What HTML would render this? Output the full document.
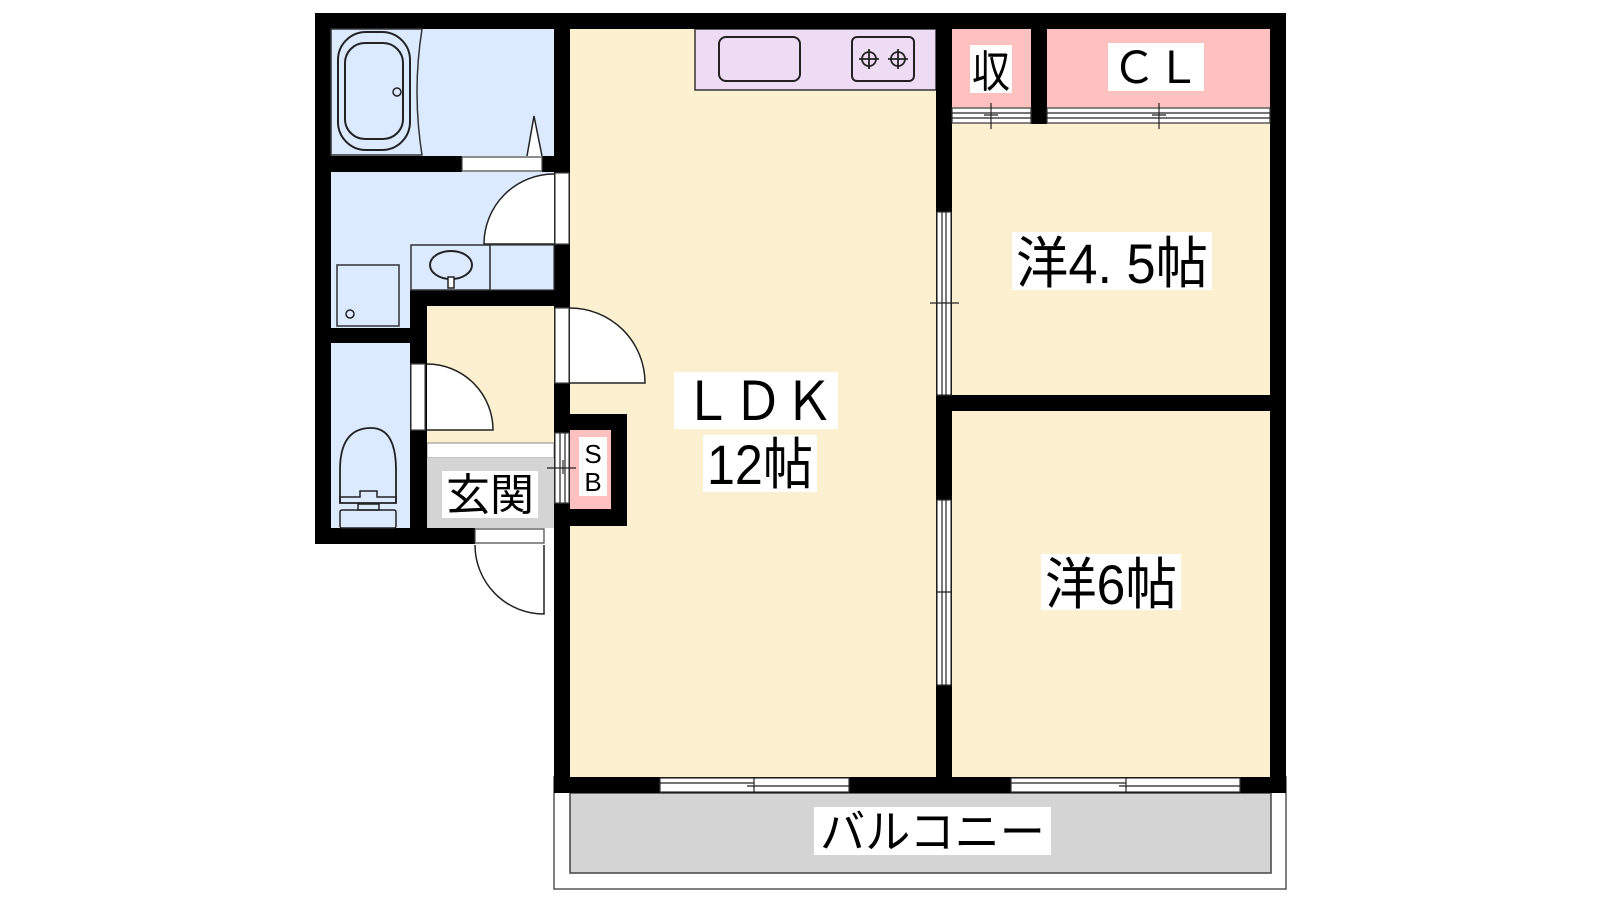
<!DOCTYPE html>
<html><head><meta charset="utf-8"><style>
html,body{margin:0;padding:0;background:#fff;width:1600px;height:900px;overflow:hidden}
svg{display:block}
text{font-family:"Liberation Sans","Noto Sans CJK JP",sans-serif;fill:#000}
</style></head><body>
<svg width="1600" height="900" viewBox="0 0 1600 900" xmlns="http://www.w3.org/2000/svg">
<!-- balcony -->
<rect x="554" y="777" width="732" height="112" fill="#fff" stroke="#555" stroke-width="1.5"/>
<rect x="570" y="793" width="701" height="80" fill="#d4d4d4" stroke="#444" stroke-width="1.5"/>
<rect x="814" y="807" width="237" height="48" fill="#fff"/>
<text x="820" y="848" font-size="46" textLength="225" lengthAdjust="spacingAndGlyphs">バルコニー</text>

<!-- floors -->
<rect x="331" y="29" width="223" height="127" fill="#dbeafe"/>
<rect x="331" y="172" width="223" height="118" fill="#dbeafe"/>
<rect x="331" y="290" width="79" height="38" fill="#dbeafe"/>
<rect x="331" y="343" width="79" height="185" fill="#dbeafe"/>
<rect x="427" y="306" width="127" height="137" fill="#fdf0d0"/>
<rect x="427" y="443" width="127" height="15" fill="#fff" stroke="#888" stroke-width="1"/>
<rect x="427" y="458" width="127" height="70" fill="#d4d4d4"/>
<rect x="570" y="29" width="366" height="748" fill="#fdf0d0"/>
<rect x="952" y="29" width="318" height="748" fill="#fdf0d0"/>
<rect x="952" y="29" width="79" height="78" fill="#ffc0c0"/>
<rect x="1047" y="29" width="223" height="78" fill="#ffc0c0"/>

<!-- kitchen -->
<rect x="695" y="29" width="241" height="61" fill="#eddcf4" stroke="#333" stroke-width="1.5"/>
<rect x="719" y="37" width="81" height="44" rx="7" fill="none" stroke="#222" stroke-width="2"/>
<rect x="852" y="37" width="62" height="44" rx="5" fill="none" stroke="#222" stroke-width="2"/>
<g stroke="#222" stroke-width="1.8" fill="none">
<circle cx="869" cy="59" r="7"/><circle cx="898" cy="59" r="7"/>
<path d="M869 49v20M859 59h20M898 49v20M888 59h20"/>
</g>

<!-- walls -->
<g fill="#000">
<rect x="315" y="13" width="971" height="16"/>
<rect x="315" y="13" width="16" height="531"/>
<rect x="1270" y="13" width="16" height="780"/>
<rect x="554" y="13" width="16" height="780"/>
<rect x="936" y="13" width="16" height="780"/>
<rect x="1031" y="29" width="16" height="95"/>
<rect x="952" y="395" width="318" height="16"/>
<rect x="331" y="156" width="131" height="16"/>
<rect x="542" y="156" width="12" height="16"/>
<rect x="410" y="290" width="160" height="16"/>
<rect x="331" y="328" width="79" height="15"/>
<rect x="410" y="290" width="17" height="238"/>
<rect x="315" y="528" width="160" height="16"/>
<rect x="554" y="777" width="732" height="16"/>
<rect x="554" y="414" width="73" height="112"/>
</g>
<rect x="570" y="430" width="41" height="79" fill="#ffc0c0"/>
<rect x="579" y="437" width="28" height="59" fill="#fff"/>
<text x="593" y="463" font-size="26" text-anchor="middle">S</text>
<text x="593" y="491" font-size="26" text-anchor="middle">B</text>

<!-- bath -->
<path d="M331 29 H422 Q412 92 422 155 H331 Z" fill="#dbeafe" stroke="#333" stroke-width="1.5"/>
<rect x="338" y="32" width="72" height="118" rx="28" fill="none" stroke="#222" stroke-width="2"/>
<rect x="345" y="43" width="58" height="96" rx="20" fill="none" stroke="#222" stroke-width="2"/>
<circle cx="397" cy="92" r="4" fill="none" stroke="#222" stroke-width="1.5"/>
<rect x="462" y="157" width="80" height="14" fill="#fff" stroke="#444" stroke-width="1.2"/>
<path d="M527 156 L534 116 L542 156" fill="#fff" stroke="#222" stroke-width="1.5"/>

<!-- washroom door -->
<rect x="555" y="173" width="14" height="71" fill="#fff" stroke="#444" stroke-width="1.2"/>
<path d="M554 174 A70 70 0 0 0 484 244 L554 244" fill="#fff" stroke="#222" stroke-width="1.5"/>
<rect x="411" y="245" width="79" height="45" fill="#dbeafe" stroke="#333" stroke-width="1.5"/>
<rect x="490" y="245" width="64" height="45" fill="none" stroke="#333" stroke-width="1.2"/>
<ellipse cx="451" cy="265" rx="21" ry="14" fill="none" stroke="#222" stroke-width="2"/>
<rect x="448" y="277" width="6" height="11" fill="#fff" stroke="#222" stroke-width="1.5"/>
<rect x="337" y="265" width="62" height="61" fill="none" stroke="#333" stroke-width="1.5"/>
<circle cx="350" cy="314" r="4" fill="none" stroke="#222" stroke-width="1.5"/>

<!-- toilet -->
<path d="M340 503 V470 Q340 428 371 428 Q396 428 396 470 V503 Z" fill="none" stroke="#222" stroke-width="1.8"/>
<path d="M340 503 V497 H360 V491 H377 V497 H396 V503" fill="none" stroke="#222" stroke-width="1.5"/>
<rect x="358" y="504" width="21" height="6" fill="none" stroke="#222" stroke-width="1.5"/>
<rect x="340" y="510" width="56" height="18" rx="2" fill="none" stroke="#222" stroke-width="1.5"/>
<rect x="411" y="364" width="14" height="66" fill="#fff" stroke="#444" stroke-width="1.2"/>
<path d="M427 364 A66 66 0 0 1 493 430 L427 430" fill="#fff" stroke="#222" stroke-width="1.5"/>

<!-- LDK hall door -->
<rect x="555" y="308" width="14" height="75" fill="#fff" stroke="#444" stroke-width="1.2"/>
<path d="M570 308 A75 75 0 0 1 645 383 L570 383" fill="#fff" stroke="#222" stroke-width="1.5"/>
<!-- SB doors -->
<rect x="555" y="433" width="14" height="70" fill="#fff" stroke="#444" stroke-width="1.2"/>
<path d="M560 433v70M565 433v70M547 468h29M563 460v14" stroke="#222" stroke-width="1.2"/>

<!-- genkan -->
<rect x="442" y="471" width="96" height="47" fill="#fff"/>
<text x="446" y="510" font-size="44" textLength="88" lengthAdjust="spacingAndGlyphs">玄関</text>
<rect x="475" y="529" width="69" height="14" fill="#fff" stroke="#444" stroke-width="1.2"/>
<path d="M475 545 A69 69 0 0 0 544 614 L544 545" fill="#fff" stroke="#222" stroke-width="1.5"/>

<!-- vertical sliding windows -->
<g stroke="#333" stroke-width="1.2" fill="#fff">
<rect x="937" y="212" width="14" height="183"/>
<rect x="937" y="500" width="14" height="185"/>
</g>
<path d="M942 212v183M946 212v183M930 303h29M942 297v10M946 300v10M942 500v185M946 500v185M937 592h14M942 585v10M946 590v8" stroke="#222" stroke-width="1.2" fill="none"/>

<!-- closet doors -->
<g stroke="#333" stroke-width="1.2" fill="#fff">
<rect x="952" y="108" width="79" height="15"/>
<rect x="1047" y="108" width="223" height="15"/>
</g>
<path d="M952 113h79M952 118h79M1047 113h223M1047 118h223M991 103v26M984 115h14M1159 103v26M1152 115h14" stroke="#222" stroke-width="1.2"/>
<rect x="970" y="45" width="42" height="48" fill="#fff"/>
<text x="972" y="87" font-size="44" textLength="38" lengthAdjust="spacingAndGlyphs">収</text>
<rect x="1108" y="43" width="96" height="48" fill="#fff"/>
<text x="1156" y="83" font-size="44" text-anchor="middle">ＣＬ</text>

<!-- bottom windows -->
<g stroke="#333" stroke-width="1.2" fill="#fff">
<rect x="660" y="778" width="189" height="14"/>
<rect x="1011" y="778" width="229" height="14"/>
</g>
<path d="M660 783h94M754 786h95M754 778v14M747 786h7M1011 783h115M1126 786h114M1126 778v14M1119 786h7" stroke="#222" stroke-width="1.2"/>

<!-- room labels -->
<rect x="674" y="372" width="164" height="57" fill="#fff"/>
<text x="682" y="420" font-size="54" textLength="152" lengthAdjust="spacingAndGlyphs">ＬＤＫ</text>
<rect x="703" y="435" width="114" height="57" fill="#fff"/>
<text x="707" y="484" font-size="56" textLength="106" lengthAdjust="spacingAndGlyphs">12帖</text>
<rect x="1012" y="232" width="200" height="58" fill="#fff"/>
<text x="1016" y="283" font-size="56" textLength="192" lengthAdjust="spacingAndGlyphs">洋4. 5帖</text>
<rect x="1041" y="554" width="140" height="56" fill="#fff"/>
<text x="1045" y="604" font-size="56" textLength="132" lengthAdjust="spacingAndGlyphs">洋6帖</text>
</svg>
</body></html>
